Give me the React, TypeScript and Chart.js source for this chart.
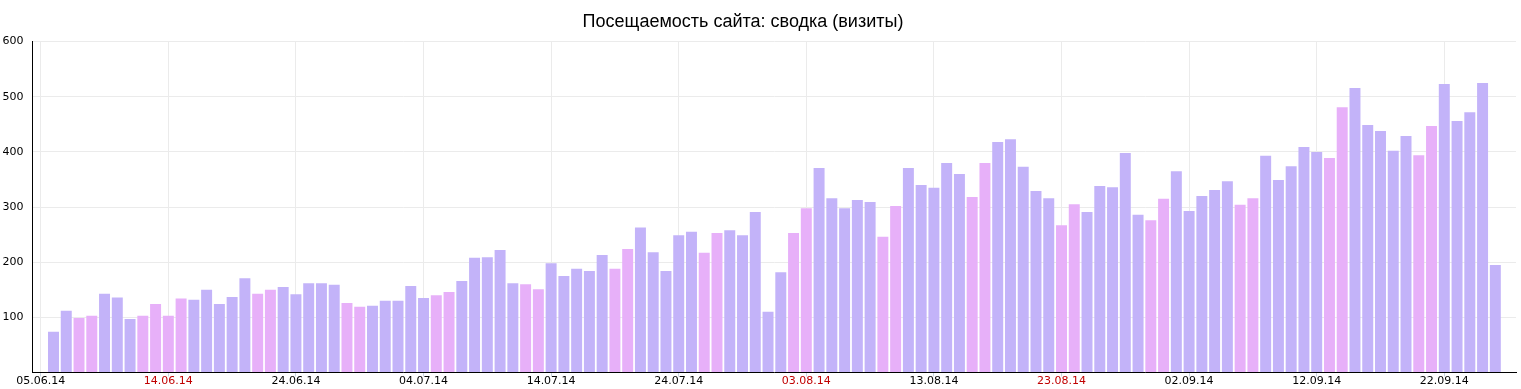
import React, { useEffect, useRef } from "react";
import { Chart, registerables } from "chart.js";

Chart.register(...registerables);

const TITLE = "Посещаемость сайта: сводка (визиты)";

// daily visits, 05.06.14 .. 26.09.14
const visits = [
  74, 112, 99, 103, 143, 136, 97, 103, 124, 103,
  134, 132, 150, 124, 137, 171, 143, 150, 155, 142,
  162, 162, 159, 126, 119, 121, 130, 130, 157, 135,
  140, 146, 166, 208, 209, 222, 162, 160, 151, 198,
  175, 188, 184, 213, 188, 224, 263, 218, 184, 249,
  255, 217, 253, 258, 249, 291, 110, 182, 253, 298,
  371, 316, 298, 313, 309, 246, 302, 371, 340, 335,
  380, 360, 318, 380, 418, 423, 373, 329, 316, 267,
  305, 291, 338, 336, 398, 286, 276, 315, 365, 293,
  320, 331, 347, 304, 316, 393, 349, 374, 409, 400,
  389, 481, 516, 449, 438, 402, 429, 394, 447, 523,
  456, 472, 525, 195,
];

// indices of days off (weekends and holidays)
const daysOff = [
  2, 3, 7, 8, 9, 10, 16, 17, 23, 24, 30, 31, 37, 38, 44, 45, 51, 52,
  58, 59, 65, 66, 72, 73, 79, 80, 86, 87, 93, 94, 100, 101, 107, 108,
];

const tickPositions = [-1, 9, 19, 29, 39, 49, 59, 69, 79, 89, 99, 109];
const tickLabels = [
  "05.06.14", "14.06.14", "24.06.14", "04.07.14", "14.07.14", "24.07.14",
  "03.08.14", "13.08.14", "23.08.14", "02.09.14", "12.09.14", "22.09.14",
];
const redTicks = ["14.06.14", "03.08.14", "23.08.14"];

const yTicks = [100, 200, 300, 400, 500, 600];

const WORK_COLOR = "#c3b3f9";
const OFF_COLOR = "#e7b0f9";

export default function App() {
  const ref = useRef<HTMLCanvasElement | null>(null);

  useEffect(() => {
    if (!ref.current) return;
    const offSet = new Set(daysOff);
    const data = visits.map((v, i) => ({ x: i, y: v }));
    const colors = visits.map((_, i) => (offSet.has(i) ? OFF_COLOR : WORK_COLOR));

    const titlePlugin = {
      id: "customTitle",
      afterDraw(chart: any) {
        const ctx = chart.ctx;
        ctx.save();
        ctx.font = "18px 'Liberation Sans', Arial, sans-serif";
        ctx.fillStyle = "#000";
        ctx.textAlign = "center";
        ctx.textBaseline = "alphabetic";
        ctx.fillText(TITLE, 743, 27);
        ctx.restore();
      },
    };

    const chart = new Chart(ref.current, {
      type: "bar",
      data: {
        datasets: [
          {
            data: data as any,
            backgroundColor: colors,
            borderWidth: 0,
            barPercentage: 1,
            categoryPercentage: 0.86,
          },
        ],
      },
      options: {
        animation: false,
        responsive: false,
        devicePixelRatio: 1,
        layout: { padding: { top: 41.6, left: 0, right: 5, bottom: 0 } },
        plugins: {
          legend: { display: false },
          title: { display: false },
          tooltip: { enabled: false },
        },
        scales: {
          x: {
            type: "linear",
            min: -1.685,
            max: 114.62,
            offset: false,
            afterFit(scale: any) {
              scale.height = 16.5;
            },
            afterBuildTicks(scale: any) {
              scale.ticks = tickPositions.map((v) => ({ value: v }));
            },
            ticks: {
              autoSkip: false,
              maxRotation: 0,
              minRotation: 0,
              padding: 0,
              font: { family: "'DejaVu Sans', Verdana, sans-serif", size: 11, lineHeight: 0.85 },
              color: (c: any) => {
                const idx = tickPositions.indexOf(c.tick?.value);
                return idx >= 0 && redTicks.includes(tickLabels[idx]) ? "#c00000" : "#000";
              },
              callback: (value: any) => {
                const idx = tickPositions.indexOf(Number(value));
                return idx >= 0 ? tickLabels[idx] : "";
              },
            },
            grid: {
              offset: false,
              color: "#ebebeb",
              lineWidth: 1,
              drawTicks: true,
              tickLength: 4,
              tickColor: "#c8d4e0",
            },
            border: { display: true, color: "#000", width: 1 },
          },
          y: {
            type: "linear",
            min: 0,
            max: 600,
            afterFit(scale: any) {
              scale.width = 32;
            },
            afterBuildTicks(scale: any) {
              scale.ticks = [0, ...yTicks].map((v) => ({ value: v }));
            },
            ticks: {
              padding: 8.5,
              font: { family: "'DejaVu Sans', Verdana, sans-serif", size: 11 },
              color: "#000",
              callback: (value: any) => (Number(value) === 0 ? "" : String(value)),
            },
            grid: { color: "#ebebeb", lineWidth: 1, drawTicks: false },
            border: { display: true, color: "#000", width: 1 },
          },
        },
      },
      plugins: [titlePlugin],
    });

    return () => chart.destroy();
  }, []);

  return (
    <div style={{ position: "absolute", left: 0, top: 0, width: 1521, height: 389, background: "#fff" }}>
      <canvas ref={ref} width={1521} height={389} style={{ display: "block", width: 1521, height: 389 }} />
    </div>
  );
}
